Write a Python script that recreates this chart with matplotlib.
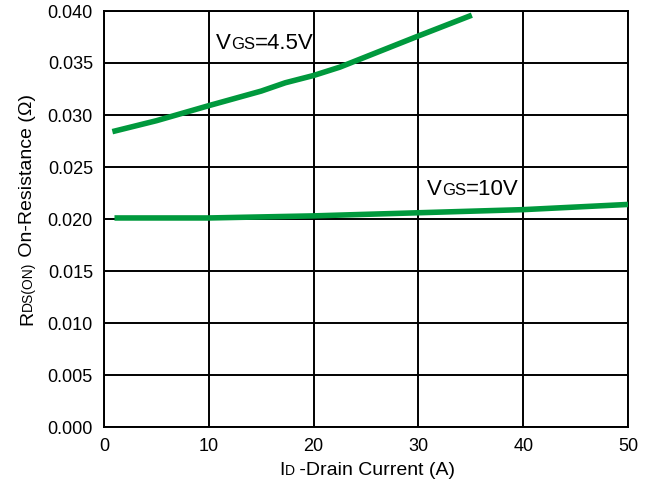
import matplotlib
matplotlib.use("Agg")
import matplotlib.pyplot as plt

plt.rcParams["font.family"] = ["Liberation Sans", "DejaVu Sans"]

# drain current (A) and on-resistance (ohm)
I_D_45 = [0.8, 5, 10, 15, 17.3, 20, 22.5, 25, 30, 35.1]
R_45 = [0.0284, 0.02945, 0.0309, 0.0323, 0.0331, 0.0338, 0.0346, 0.0356, 0.0376, 0.0396]

I_D_10 = [1, 10, 20, 30, 40, 50]
R_10 = [0.0201, 0.0201, 0.0203, 0.0206, 0.0209, 0.0214]

X_TICKS = [0, 10, 20, 30, 40, 50]
Y_TICKS = [0.000, 0.005, 0.010, 0.015, 0.020, 0.025, 0.030, 0.035, 0.040]

GREEN = "#00993d"
W, H = 662, 484


def place_pieces(fig, x, y, pieces, rotation=0):
    """Lay out text pieces one after another on a shared baseline (pixel coords, y from top)."""
    renderer = fig.canvas.get_renderer()
    pos = 0.0
    for text, size in pieces:
        if rotation == 90:
            px, py = x, H - y + pos
        else:
            px, py = x + pos, H - y
        t = fig.text(px / W, py / H, text, fontsize=size, ha="left", va="baseline",
                     rotation=rotation, rotation_mode="anchor", color="black")
        bb = t.get_window_extent(renderer)
        pos += bb.height if rotation == 90 else bb.width


fig = plt.figure(figsize=(W / 100, H / 100), dpi=100)
ax = fig.add_axes([104 / W, 57 / H, 524 / W, 416 / H])

ax.plot(I_D_45, R_45, color=GREEN, lw=4.0, solid_capstyle="butt", zorder=3)
ax.plot(I_D_10, R_10, color=GREEN, lw=4.0, solid_capstyle="butt", zorder=3)

ax.set_xlim(0, 50)
ax.set_ylim(0, 0.040)
ax.set_xticks(X_TICKS)
ax.set_yticks(Y_TICKS)
ax.set_yticklabels([f"{v:.3f}" for v in Y_TICKS])
ax.tick_params(length=0, labelsize=13, pad=8)
ax.grid(True, color="black", lw=1.4)
for s in ax.spines.values():
    s.set_color("black")
    s.set_linewidth(1.4)

fig.canvas.draw()
place_pieces(fig, 216, 49, [("V", 16), ("GS", 12), ("=4.5V", 16)])
place_pieces(fig, 427, 195, [("V", 16), ("GS", 12), ("=10V", 16)])
place_pieces(fig, 279, 475, [("I", 14), ("D", 10), (" -Drain Current (A)", 14)])
place_pieces(fig, 32, 325, [("R", 14), ("DS(ON)", 10), (" On-Resistance (\u03a9)", 14)], rotation=90)

fig.savefig("out.png", dpi=100)
